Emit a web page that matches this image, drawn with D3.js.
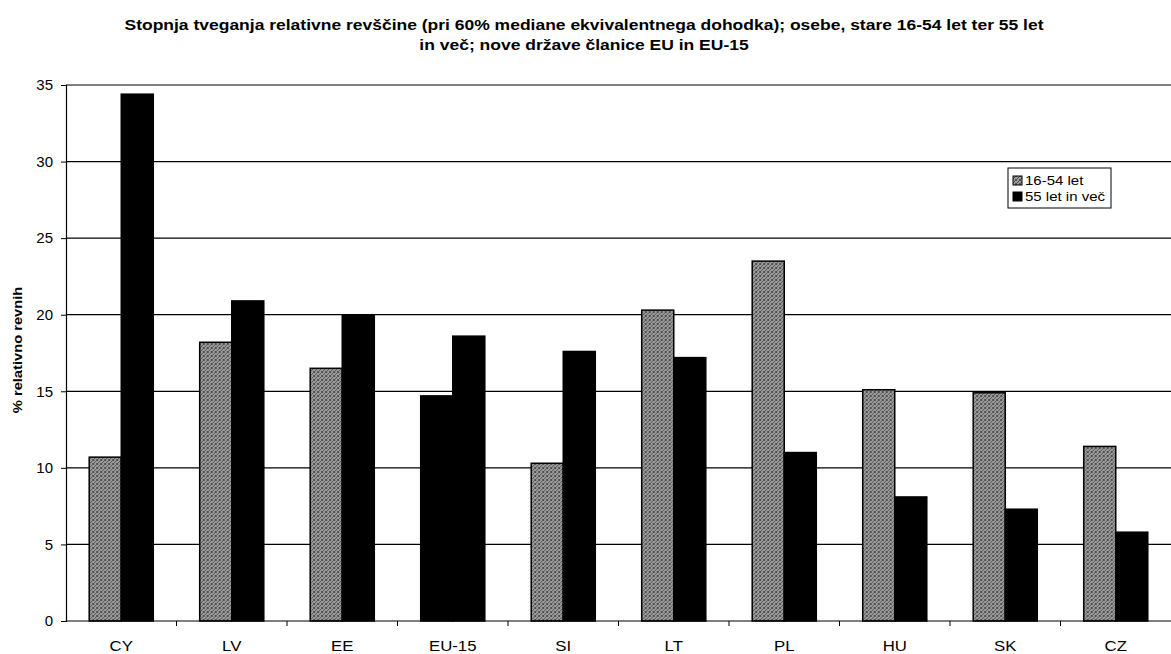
<!DOCTYPE html>
<html>
<head>
<meta charset="utf-8">
<script src="https://cdn.jsdelivr.net/npm/d3@7"></script>
<style>
  body { margin: 0; background: #fff; }
  text { font-family: "Liberation Sans", Arial, sans-serif; }
</style>
</head>
<body>
<script>
(function () {

    //chart data
    var categories = ["CY", "LV", "EE", "EU-15", "SI", "LT", "PL", "HU", "SK", "CZ"];
    var seriesNames = ["16-54 let", "55 let in več"];
    var young = [10.7, 18.2, 16.5, 14.7, 10.3, 20.3, 23.5, 15.1, 14.9, 11.4];
    var old = [34.4, 20.9, 20.0, 18.6, 17.6, 17.2, 11.0, 8.1, 7.3, 5.8];
    var yTicks = [0, 5, 10, 15, 20, 25, 30, 35];
    var solidCats = ["EU-15"]; //in the original, EU-15 is drawn in black for both groups
    var titleLines = [
        "Stopnja tveganja relativne revščine (pri 60% mediane ekvivalentnega dohodka); osebe, stare 16-54 let ter 55 let",
        "in več; nove države članice EU in EU-15"
    ];
    var yLabel = "% relativno revnih";

    window.onload = drawChart();

    //the scanned original is a bit wider than tall, so text gets stretched sideways
    function stretched(sel, x, y, sx, rot) {
        return sel.attr("transform", "translate(" + x + "," + y + ")" +
            (rot ? " rotate(" + rot + ")" : "") + " scale(" + sx + ",1)");
    }

    function drawChart() {
        var width = 1171,
            height = 654;

        var left = 66, right = 1171, top = 85, bottom = 621;

        var svg = d3.select("body")
            .append("svg")
            .attr("width", width)
            .attr("height", height);

        //stipple pattern for the grey bars
        var defs = svg.append("defs");
        var pat = defs.append("pattern")
            .attr("id", "stipple")
            .attr("width", 4)
            .attr("height", 4)
            .attr("patternUnits", "userSpaceOnUse");
        pat.append("rect").attr("width", 4).attr("height", 4).attr("fill", "#9c9c9c");
        [[0, 0], [2, 1], [1, 2], [3, 3], [0, 3], [3, 0]].forEach(function (p) {
            pat.append("rect").attr("x", p[0]).attr("y", p[1])
                .attr("width", 1).attr("height", 1).attr("fill", "#505050");
        });

        var x0 = d3.scaleBand()
            .domain(categories)
            .range([left, right])
            .paddingInner(0.42)
            .paddingOuter(0.21);

        var x1 = d3.scaleBand()
            .domain(seriesNames)
            .range([0, x0.bandwidth()]);

        var y = d3.scaleLinear()
            .domain([0, 35])
            .range([bottom, top]);

        //gridlines
        svg.append("g")
            .selectAll("line")
            .data(yTicks.slice(1))
            .enter()
            .append("line")
            .attr("x1", left)
            .attr("x2", right)
            .attr("y1", function (d) { return y(d); })
            .attr("y2", function (d) { return y(d); })
            .attr("stroke", "#000")
            .attr("stroke-width", 1.2);

        //bars
        var rows = categories.map(function (c, i) {
            return { cat: c, vals: [young[i], old[i]] };
        });

        var groups = svg.append("g")
            .selectAll("g")
            .data(rows)
            .enter()
            .append("g")
            .attr("transform", function (d) { return "translate(" + x0(d.cat) + ",0)"; });

        groups.selectAll("rect")
            .data(function (d) {
                return d.vals.map(function (v, j) {
                    return { cat: d.cat, series: seriesNames[j], j: j, v: v };
                });
            })
            .enter()
            .append("rect")
            .attr("x", function (d) { return x1(d.series); })
            .attr("width", x1.bandwidth())
            .attr("y", function (d) { return y(d.v); })
            .attr("height", function (d) { return y(0) - y(d.v); })
            .attr("fill", function (d) {
                if (d.j === 1 || solidCats.indexOf(d.cat) >= 0) return "#000";
                return "url(#stipple)";
            })
            .attr("stroke", "#000")
            .attr("stroke-width", 1.5);

        //y axis
        var yAxis = svg.append("g")
            .attr("transform", "translate(" + left + ",0)")
            .call(d3.axisLeft(y).tickValues(yTicks).tickSize(5).tickPadding(8));
        yAxis.select(".domain").attr("stroke-width", 1.2);
        yAxis.selectAll("text").attr("font-size", 15).attr("fill", "#000")
            .attr("font-family", "Liberation Sans, Arial, sans-serif");

        //x axis
        var xAxis = svg.append("g")
            .attr("transform", "translate(0," + bottom + ")");
        xAxis.append("line")
            .attr("x1", left).attr("x2", right)
            .attr("stroke", "#000").attr("stroke-width", 1.2);
        xAxis.selectAll(".tick")
            .data(categories.slice(1))
            .enter()
            .append("line")
            .attr("x1", function (d) { return x0(d) - x0.step() * x0.paddingInner() / 2; })
            .attr("x2", function (d) { return x0(d) - x0.step() * x0.paddingInner() / 2; })
            .attr("y1", 0).attr("y2", 5)
            .attr("stroke", "#000");
        xAxis.selectAll(".lab")
            .data(categories)
            .enter()
            .append("text")
            .each(function (d) {
                stretched(d3.select(this), x0(d) + x0.bandwidth() / 2, 30, 1.2);
            })
            .attr("text-anchor", "middle")
            .attr("font-size", 14)
            .text(function (d) { return d; });

        //y label
        stretched(svg.append("text"), 22, 350, 1.13, -90)
            .attr("text-anchor", "middle")
            .attr("font-size", 13)
            .attr("font-weight", "bold")
            .text(yLabel);

        //title
        svg.selectAll(".title")
            .data(titleLines)
            .enter()
            .append("text")
            .each(function (d, i) {
                stretched(d3.select(this), 584, 30 + i * 20, 1.25);
            })
            .attr("text-anchor", "middle")
            .attr("font-size", 14)
            .attr("font-weight", "bold")
            .text(function (d) { return d; });

        //legend
        var lg = svg.append("g").attr("transform", "translate(1008,168)");
        lg.append("rect")
            .attr("width", 103).attr("height", 40)
            .attr("fill", "#fff").attr("stroke", "#000").attr("stroke-width", 1);
        seriesNames.forEach(function (s, i) {
            lg.append("rect")
                .attr("x", 5).attr("y", 8 + i * 16)
                .attr("width", 9).attr("height", 9)
                .attr("fill", i === 0 ? "url(#stipple)" : "#000")
                .attr("stroke", "#000");
            stretched(lg.append("text"), 17, 17 + i * 16, 1.2)
                .attr("font-size", 12.5)
                .text(s);
        });
    }

})();
</script>
</body>
</html>
